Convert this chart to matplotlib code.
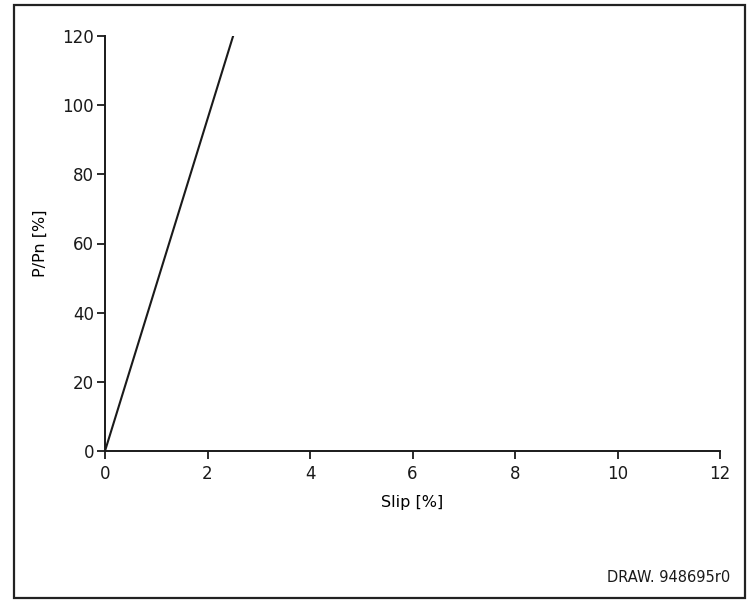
import matplotlib
matplotlib.use("Agg")
import matplotlib.pyplot as plt
from matplotlib.patches import Rectangle

# Data
slip = [0.0, 2.5]
power = [0.0, 120.0]
x_ticks = [0, 2, 4, 6, 8, 10, 12]
y_ticks = [0, 20, 40, 60, 80, 100, 120]

W, H = 747, 606
fig = plt.figure(figsize=(W / 100, H / 100), dpi=100)
fig.patch.set_facecolor("white")

# outer frame of the drawing
fig.patches.append(Rectangle((14 / W, 1 - 598 / H), (745 - 14) / W, (598 - 5) / H,
                             transform=fig.transFigure, fill=False,
                             edgecolor="#222222", linewidth=1.6))

ax = fig.add_axes([105 / W, 1 - 451 / H, (720 - 105) / W, (451 - 36) / H])
ax.plot(slip, power, color="#1a1a1a", linewidth=1.5)

ax.set_xlim(0, 12)
ax.set_ylim(0, 120)
ax.set_xticks(x_ticks)
ax.set_yticks(y_ticks)
for s in ["top", "right"]:
    ax.spines[s].set_visible(False)
for s in ["left", "bottom"]:
    ax.spines[s].set_linewidth(1.4)
    ax.spines[s].set_color("#1a1a1a")
ax.tick_params(direction="out", length=6, width=1.3, labelsize=12, colors="#1a1a1a")
ax.tick_params(axis="y", pad=2)
ax.tick_params(axis="x", pad=4)

ax.set_xlabel("Slip [%]", fontsize=11.5, labelpad=9)
ax.set_ylabel("P/Pn [%]", fontsize=11.5, labelpad=10)

fig.text(730 / W, 1 - 578 / H, "DRAW. 948695r0", ha="right", va="center", fontsize=10.5,
         color="#1a1a1a")

fig.savefig("out.png", dpi=100)
